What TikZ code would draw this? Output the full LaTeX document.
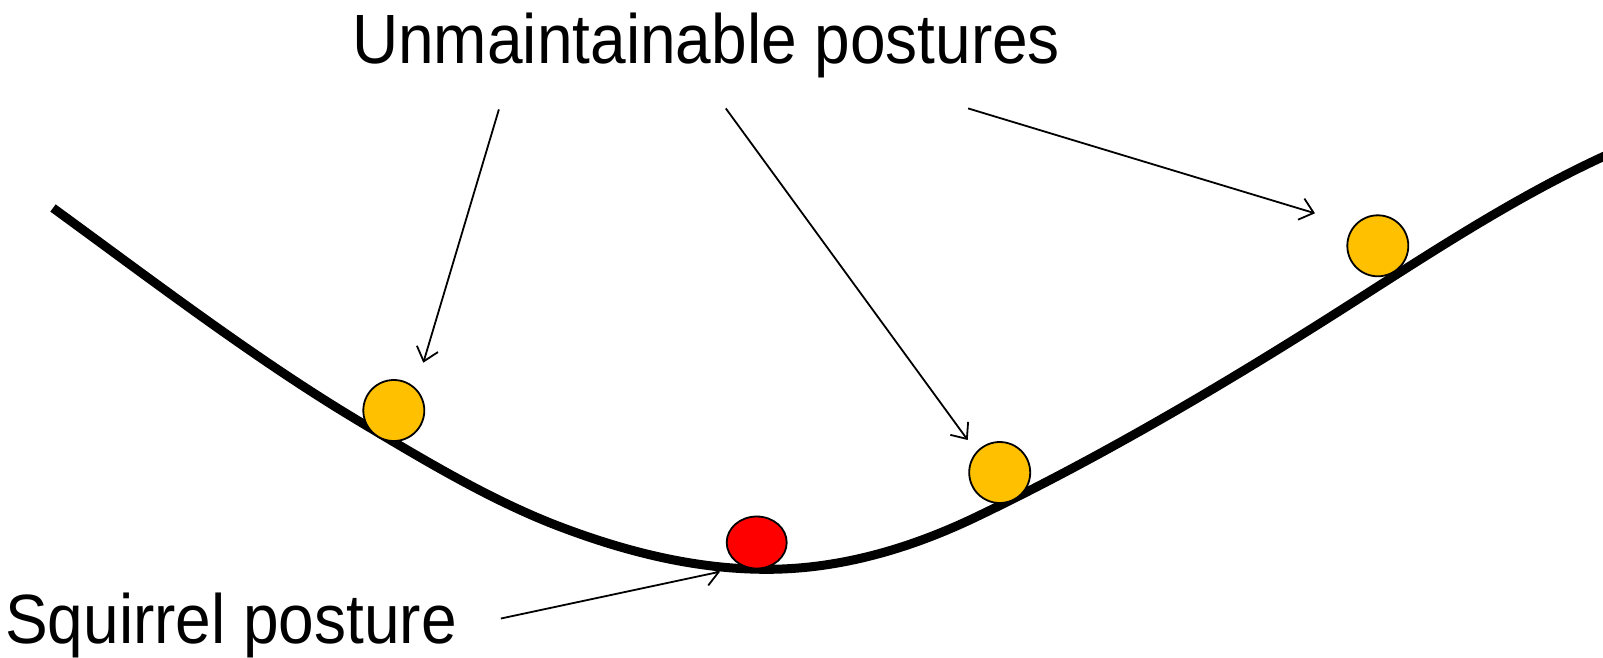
\documentclass[tikz,border=0pt]{standalone}
\usepackage{fontspec}
\setmainfont{Liberation Sans}
\usetikzlibrary{arrows.meta,shapes.geometric}
\definecolor{ballyellow}{HTML}{FFC000}
\definecolor{ballred}{HTML}{FF0000}
\begin{document}
\begin{tikzpicture}[x=1pt,y=-1pt,
  ball/.style={circle,draw=black,line width=1.8pt,minimum size=61pt,inner sep=0pt,fill=ballyellow},
  redball/.style={ellipse,draw=black,line width=1.8pt,minimum width=60pt,minimum height=52pt,inner sep=0pt,fill=ballred},
  pointer/.style={line width=1.8pt,-{Straight Barb[length=13pt,width=22pt,line width=1.8pt]}},
  label/.style={inner sep=0pt,font=\fontsize{64}{70}\selectfont}]
\useasboundingbox (0,0) rectangle (1603,657);
\draw[line width=9pt] (53,208)
  .. controls (154,281.7) and (256,359.4) .. (357,420)
  .. controls (425,460.8) and (492,500.9) .. (560,526.7)
  .. controls (629,552.9) and (697.7,569.3) .. (766.7,569.3)
  .. controls (836.7,569.3) and (906.7,550.3) .. (976.7,516.7)
  .. controls (1091.1,461.8) and (1205.6,395.4) .. (1320,323.3)
  .. controls (1414.3,263.9) and (1508.7,199.1) .. (1612,152.6);
\node[ball] (y1) at (393.8,410.5) {};
\node[redball] (r) at (756.7,542.5) {};
\node[ball] (y2) at (999.7,472.5) {};
\node[ball] (y3) at (1377.8,245.8) {};
\node[label,anchor=base west] (top) at (352,63.3) {\scalebox{1}[1.09]{Unmaintainable postures}};
\node[label,anchor=base west] (sq) at (5,643) {\scalebox{1}[1.09]{Squirrel posture}};
\coordinate (t1) at (498.9,109.4);
\coordinate (h1) at (423.3,362.7);
\coordinate (t2) at (725.8,108.4);
\coordinate (h2) at (967.7,440);
\coordinate (t3) at (968.1,108.4);
\coordinate (h3) at (1315,213.3);
\coordinate (t4) at (500.9,618.5);
\coordinate (h4) at (720,571.7);
\draw[pointer] (t1) -- (h1);
\draw[pointer] (t2) -- (h2);
\draw[pointer] (t3) -- (h3);
\draw[pointer] (t4) -- (h4);
\end{tikzpicture}
\end{document}
